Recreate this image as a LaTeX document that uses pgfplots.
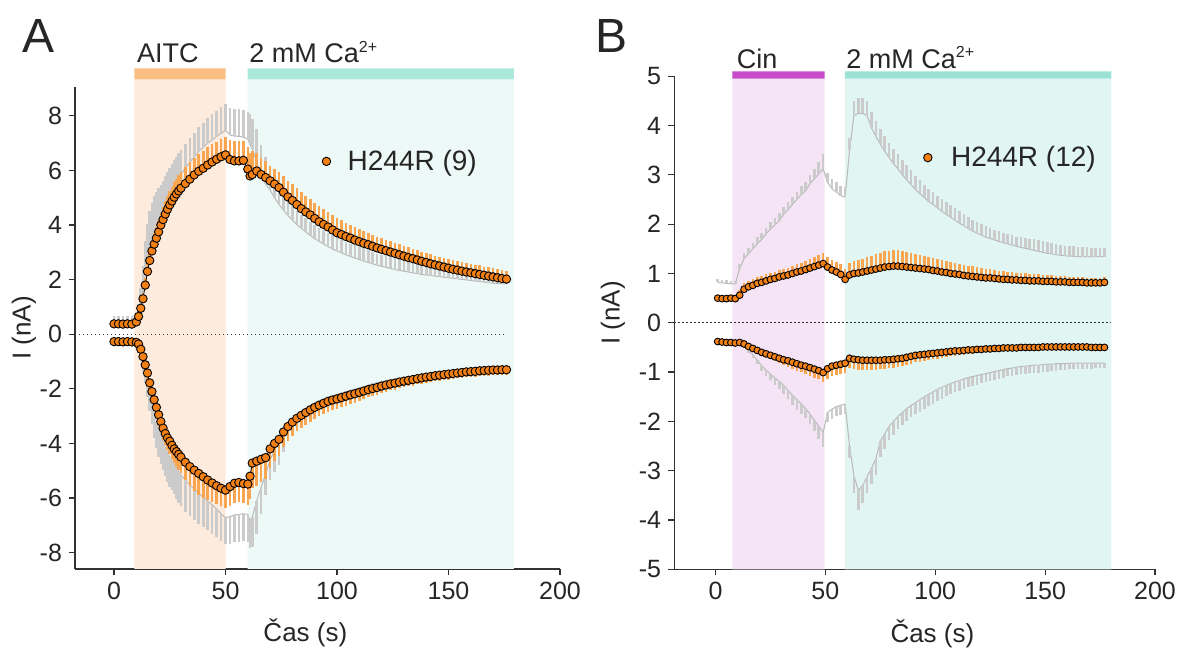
\documentclass[border=0pt]{standalone}
\usepackage{fontspec}
\setmainfont{Liberation Sans}
\usepackage{pgfplots}
\usepackage{pgfplotstable}
\pgfplotsset{compat=1.18}
\definecolor{orfill}{RGB}{242,128,20}
\definecolor{orerr}{RGB}{250,165,80}
\definecolor{grerr}{RGB}{203,203,203}
\definecolor{grmean}{RGB}{185,185,185}
\definecolor{aitcbar}{RGB}{250,190,130}
\definecolor{aitcsh}{RGB}{253,236,222}
\definecolor{cabarA}{RGB}{170,232,220}
\definecolor{cashA}{RGB}{236,249,247}
\definecolor{cinbar}{RGB}{200,75,200}
\definecolor{cinsh}{RGB}{245,228,245}
\definecolor{cabarB}{RGB}{155,226,213}
\definecolor{cashB}{RGB}{225,245,242}
\definecolor{axcol}{RGB}{50,50,50}

\pgfplotstableread{
t ou oue gu gue ol ole gl gle
0 0.38 0.05 0.50 0.15 -0.27 0.05 -0.32 0.10
2 0.38 0.05 0.50 0.15 -0.27 0.05 -0.32 0.10
4 0.37 0.05 0.50 0.15 -0.28 0.05 -0.32 0.10
6 0.38 0.05 0.51 0.15 -0.27 0.05 -0.32 0.10
8 0.37 0.05 0.50 0.15 -0.28 0.05 -0.32 0.10
10 0.45 0.06 0.60 0.15 -0.30 0.06 -0.35 0.10
11 0.65 0.10 0.80 0.30 -0.36 0.08 -0.42 0.20
12 0.95 0.15 1.10 0.60 -0.55 0.10 -0.65 0.30
13 1.30 0.20 1.60 0.90 -0.82 0.15 -0.95 0.40
14 1.80 0.25 2.20 1.20 -1.12 0.20 -1.30 0.50
15 2.30 0.30 2.70 1.35 -1.42 0.25 -1.70 0.60
16 2.70 0.35 3.10 1.40 -1.78 0.30 -2.10 0.70
17 3.05 0.38 3.45 1.35 -2.10 0.33 -2.50 0.80
18 3.30 0.40 3.75 1.30 -2.40 0.35 -2.90 0.90
19 3.52 0.42 4.00 1.20 -2.68 0.38 -3.20 0.95
20 3.75 0.44 4.25 1.10 -2.95 0.40 -3.50 1.00
21 4.00 0.45 4.47 1.00 -3.20 0.41 -3.72 1.02
22 4.20 0.46 4.68 0.95 -3.44 0.42 -3.95 1.04
23 4.40 0.48 4.88 0.90 -3.64 0.43 -4.15 1.05
24 4.58 0.50 5.05 0.88 -3.80 0.45 -4.35 1.06
25 4.74 0.51 5.20 0.88 -3.92 0.47 -4.50 1.08
26 4.88 0.52 5.35 0.88 -4.07 0.50 -4.62 1.10
27 5.02 0.54 5.50 0.88 -4.20 0.52 -4.76 1.11
28 5.14 0.55 5.63 0.88 -4.30 0.55 -4.90 1.12
29 5.25 0.57 5.76 0.88 -4.40 0.57 -5.03 1.14
30 5.35 0.58 5.87 0.88 -4.50 0.60 -5.15 1.15
32 5.52 0.60 6.08 0.88 -4.69 0.65 -5.35 1.15
34 5.68 0.62 6.30 0.88 -4.85 0.70 -5.52 1.14
36 5.84 0.63 6.50 0.88 -4.98 0.75 -5.68 1.13
38 5.97 0.65 6.70 0.88 -5.10 0.80 -5.82 1.12
40 6.08 0.65 6.85 0.88 -5.22 0.78 -5.97 1.10
42 6.20 0.65 7.00 0.93 -5.34 0.75 -6.10 1.08
44 6.31 0.65 7.12 0.93 -5.45 0.70 -6.25 1.06
46 6.41 0.65 7.25 0.93 -5.55 0.68 -6.40 1.04
48 6.50 0.65 7.36 0.95 -5.64 0.66 -6.58 1.00
50 6.57 0.65 7.47 0.97 -5.71 0.64 -6.72 0.97
52 6.40 0.72 7.30 1.00 -5.58 0.73 -6.68 1.00
54 6.35 0.72 7.26 1.00 -5.46 0.73 -6.62 1.00
56 6.35 0.72 7.25 1.00 -5.43 0.73 -6.60 1.00
58 6.37 0.72 7.22 1.00 -5.47 0.73 -6.58 1.00
60 6.05 0.80 7.15 1.00 -5.49 0.75 -6.60 1.00
61 5.80 0.85 6.95 1.10 -5.20 0.85 -6.84 1.00
62 5.85 0.85 6.80 1.10 -4.72 0.90 -6.70 1.10
64 5.98 0.65 6.30 1.20 -4.65 0.90 -6.10 1.20
66 5.85 0.62 5.80 1.15 -4.58 0.85 -5.60 1.00
68 5.74 0.60 5.50 1.00 -4.52 0.78 -5.13 0.75
70 5.62 0.55 5.28 0.85 -4.20 0.70 -4.60 0.75
72 5.50 0.56 5.00 0.75 -4.00 0.65 -4.25 0.80
74 5.37 0.57 4.75 0.68 -3.85 0.60 -3.95 0.85
76 5.20 0.58 4.55 0.62 -3.58 0.56 -3.60 0.70
78 5.03 0.60 4.35 0.58 -3.38 0.52 -3.30 0.60
80 4.90 0.60 4.18 0.55 -3.22 0.50 -3.10 0.55
82 4.75 0.60 4.02 0.50 -3.08 0.48 -2.95 0.50
84 4.60 0.60 3.88 0.50 -2.97 0.46 -2.82 0.46
86 4.48 0.60 3.75 0.50 -2.87 0.45 -2.72 0.44
88 4.37 0.59 3.62 0.50 -2.77 0.44 -2.61 0.42
90 4.24 0.58 3.50 0.50 -2.68 0.42 -2.52 0.40
92 4.12 0.57 3.40 0.50 -2.60 0.41 -2.44 0.39
94 4.02 0.56 3.30 0.50 -2.53 0.40 -2.37 0.38
96 3.93 0.56 3.21 0.50 -2.46 0.39 -2.31 0.37
98 3.82 0.55 3.12 0.50 -2.41 0.38 -2.25 0.36
100 3.72 0.55 3.05 0.50 -2.37 0.37 -2.20 0.35
102 3.65 0.53 2.98 0.48 -2.32 0.36 -2.15 0.34
104 3.58 0.51 2.91 0.48 -2.27 0.35 -2.10 0.34
106 3.52 0.49 2.85 0.47 -2.22 0.34 -2.05 0.33
108 3.45 0.47 2.79 0.47 -2.18 0.33 -2.01 0.33
110 3.39 0.45 2.74 0.47 -2.13 0.30 -1.97 0.32
112 3.33 0.44 2.68 0.47 -2.08 0.29 -1.93 0.32
114 3.28 0.43 2.63 0.46 -2.03 0.28 -1.86 0.31
116 3.22 0.42 2.58 0.45 -1.99 0.27 -1.81 0.31
118 3.16 0.41 2.53 0.42 -1.95 0.26 -1.77 0.30
120 3.11 0.40 2.49 0.42 -1.90 0.25 -1.74 0.30
122 3.06 0.40 2.45 0.42 -1.86 0.25 -1.71 0.29
124 3.01 0.39 2.41 0.42 -1.82 0.24 -1.68 0.29
126 2.96 0.38 2.37 0.42 -1.79 0.24 -1.65 0.28
128 2.91 0.38 2.34 0.42 -1.75 0.23 -1.62 0.28
130 2.86 0.37 2.31 0.42 -1.72 0.22 -1.59 0.28
132 2.81 0.37 2.28 0.36 -1.69 0.22 -1.56 0.27
134 2.77 0.36 2.25 0.36 -1.66 0.22 -1.54 0.27
136 2.72 0.36 2.22 0.36 -1.63 0.21 -1.52 0.27
138 2.67 0.35 2.19 0.36 -1.60 0.21 -1.50 0.26
140 2.63 0.35 2.17 0.36 -1.57 0.21 -1.48 0.26
142 2.58 0.35 2.15 0.30 -1.55 0.21 -1.46 0.26
144 2.54 0.34 2.13 0.30 -1.52 0.20 -1.43 0.25
146 2.50 0.34 2.11 0.30 -1.50 0.20 -1.41 0.25
148 2.46 0.34 2.09 0.30 -1.48 0.20 -1.39 0.25
150 2.42 0.34 2.07 0.30 -1.46 0.20 -1.37 0.25
152 2.38 0.34 2.05 0.25 -1.44 0.20 -1.35 0.24
154 2.35 0.34 2.03 0.25 -1.42 0.20 -1.33 0.24
156 2.31 0.34 2.01 0.25 -1.40 0.20 -1.31 0.24
158 2.28 0.34 1.99 0.25 -1.38 0.20 -1.29 0.23
160 2.25 0.34 1.97 0.25 -1.37 0.20 -1.28 0.23
162 2.22 0.33 1.95 0.25 -1.36 0.20 -1.27 0.23
164 2.19 0.33 1.93 0.25 -1.34 0.20 -1.26 0.22
166 2.16 0.32 1.91 0.25 -1.33 0.20 -1.25 0.22
168 2.13 0.32 1.89 0.25 -1.32 0.20 -1.24 0.22
170 2.10 0.31 1.87 0.25 -1.31 0.20 -1.23 0.21
172 2.07 0.31 1.86 0.25 -1.31 0.20 -1.22 0.21
174 2.04 0.30 1.85 0.25 -1.30 0.20 -1.21 0.20
176 2.02 0.30 1.84 0.25 -1.30 0.20 -1.20 0.20
}\tabA

\pgfplotstableread{
t ou oue gu gue ol ole gl gle
1 0.50 0.07 0.82 0.06 -0.38 0.04 -0.40 0.03
3 0.49 0.07 0.81 0.06 -0.39 0.04 -0.40 0.03
5 0.49 0.07 0.80 0.06 -0.40 0.04 -0.41 0.03
7 0.50 0.07 0.79 0.06 -0.40 0.04 -0.41 0.03
9 0.49 0.08 0.79 0.06 -0.41 0.04 -0.42 0.03
11 0.56 0.10 1.10 0.10 -0.40 0.04 -0.42 0.04
13 0.68 0.12 1.30 0.12 -0.43 0.04 -0.45 0.05
15 0.73 0.12 1.40 0.12 -0.48 0.05 -0.55 0.06
17 0.76 0.12 1.50 0.12 -0.52 0.05 -0.65 0.07
19 0.80 0.12 1.60 0.13 -0.56 0.06 -0.76 0.08
21 0.82 0.13 1.69 0.13 -0.60 0.07 -0.87 0.10
23 0.85 0.13 1.80 0.13 -0.63 0.08 -0.96 0.12
25 0.88 0.13 1.90 0.14 -0.66 0.08 -1.04 0.13
27 0.90 0.14 1.98 0.14 -0.69 0.09 -1.12 0.15
29 0.93 0.14 2.07 0.15 -0.72 0.10 -1.19 0.16
31 0.95 0.14 2.20 0.15 -0.75 0.11 -1.27 0.17
33 0.97 0.15 2.30 0.15 -0.77 0.12 -1.37 0.18
35 1.00 0.15 2.40 0.16 -0.80 0.13 -1.47 0.19
37 1.03 0.16 2.50 0.16 -0.83 0.14 -1.56 0.20
39 1.05 0.16 2.60 0.17 -0.86 0.14 -1.65 0.20
41 1.08 0.17 2.68 0.17 -0.88 0.15 -1.74 0.20
43 1.11 0.18 2.82 0.18 -0.91 0.16 -1.85 0.20
45 1.14 0.19 2.92 0.20 -0.94 0.17 -1.98 0.22
47 1.17 0.20 3.02 0.24 -0.97 0.18 -2.10 0.25
49 1.20 0.22 3.12 0.30 -1.01 0.20 -2.22 0.30
51 1.13 0.20 2.85 0.18 -0.93 0.20 -1.82 0.20
53 1.07 0.20 2.72 0.19 -0.88 0.20 -1.75 0.20
55 1.03 0.20 2.65 0.20 -0.86 0.20 -1.70 0.20
57 0.98 0.21 2.58 0.20 -0.84 0.20 -1.67 0.20
59 0.88 0.22 2.55 0.20 -0.82 0.20 -1.65 0.20
61 0.97 0.25 3.50 0.25 -0.72 0.20 -2.50 0.25
63 1.00 0.25 4.20 0.30 -0.74 0.20 -3.10 0.35
65 1.01 0.26 4.25 0.30 -0.75 0.20 -3.40 0.40
67 1.03 0.27 4.25 0.30 -0.76 0.20 -3.30 0.35
69 1.05 0.28 4.20 0.30 -0.76 0.20 -3.12 0.33
71 1.07 0.29 3.95 0.33 -0.76 0.19 -2.95 0.33
73 1.09 0.30 3.78 0.32 -0.76 0.19 -2.75 0.33
75 1.11 0.31 3.62 0.31 -0.76 0.18 -2.40 0.33
77 1.13 0.32 3.48 0.30 -0.75 0.18 -2.25 0.30
79 1.14 0.32 3.35 0.30 -0.75 0.17 -2.10 0.28
81 1.15 0.32 3.23 0.30 -0.74 0.17 -2.00 0.27
83 1.15 0.32 3.12 0.30 -0.73 0.16 -1.90 0.26
85 1.14 0.31 3.00 0.30 -0.72 0.16 -1.82 0.25
87 1.13 0.31 2.90 0.30 -0.70 0.15 -1.74 0.25
89 1.12 0.30 2.80 0.29 -0.68 0.15 -1.68 0.24
91 1.11 0.29 2.70 0.28 -0.66 0.14 -1.62 0.24
93 1.10 0.28 2.62 0.27 -0.65 0.14 -1.56 0.24
95 1.09 0.27 2.54 0.26 -0.64 0.13 -1.50 0.24
97 1.08 0.26 2.46 0.26 -0.63 0.13 -1.45 0.24
99 1.06 0.25 2.40 0.25 -0.62 0.12 -1.40 0.24
101 1.05 0.25 2.33 0.25 -0.61 0.12 -1.35 0.23
103 1.03 0.24 2.26 0.25 -0.60 0.11 -1.31 0.23
105 1.02 0.24 2.20 0.24 -0.59 0.11 -1.27 0.22
107 1.00 0.23 2.14 0.24 -0.58 0.10 -1.23 0.22
109 0.99 0.22 2.08 0.24 -0.57 0.10 -1.20 0.21
111 0.98 0.22 2.02 0.24 -0.57 0.09 -1.17 0.21
113 0.96 0.21 1.97 0.23 -0.56 0.09 -1.14 0.20
115 0.95 0.21 1.91 0.23 -0.55 0.08 -1.11 0.20
117 0.94 0.21 1.86 0.23 -0.55 0.08 -1.09 0.20
119 0.93 0.20 1.82 0.22 -0.54 0.08 -1.07 0.19
121 0.92 0.20 1.78 0.22 -0.54 0.08 -1.05 0.18
123 0.91 0.19 1.74 0.22 -0.53 0.07 -1.03 0.18
125 0.91 0.18 1.71 0.21 -0.53 0.07 -1.01 0.17
127 0.90 0.18 1.68 0.21 -0.52 0.07 -0.99 0.17
129 0.89 0.17 1.65 0.21 -0.52 0.07 -0.97 0.16
131 0.88 0.17 1.62 0.20 -0.51 0.07 -0.95 0.16
133 0.88 0.16 1.60 0.20 -0.51 0.06 -0.93 0.15
135 0.87 0.16 1.58 0.20 -0.51 0.06 -0.92 0.15
137 0.87 0.15 1.55 0.20 -0.51 0.06 -0.90 0.15
139 0.86 0.15 1.53 0.21 -0.50 0.06 -0.89 0.15
141 0.86 0.14 1.51 0.21 -0.50 0.06 -0.88 0.15
143 0.85 0.14 1.49 0.21 -0.50 0.06 -0.87 0.15
145 0.85 0.13 1.47 0.22 -0.50 0.06 -0.86 0.15
147 0.85 0.13 1.45 0.22 -0.50 0.06 -0.86 0.15
149 0.84 0.12 1.43 0.22 -0.49 0.06 -0.85 0.15
151 0.84 0.12 1.41 0.22 -0.49 0.06 -0.84 0.15
153 0.84 0.12 1.40 0.22 -0.49 0.06 -0.84 0.14
155 0.83 0.12 1.38 0.21 -0.49 0.05 -0.83 0.14
157 0.83 0.11 1.37 0.21 -0.49 0.05 -0.83 0.13
159 0.83 0.11 1.36 0.20 -0.49 0.05 -0.83 0.13
161 0.82 0.11 1.35 0.20 -0.49 0.05 -0.82 0.12
163 0.82 0.11 1.35 0.20 -0.49 0.05 -0.82 0.12
165 0.82 0.11 1.34 0.19 -0.49 0.05 -0.82 0.12
167 0.82 0.10 1.34 0.19 -0.49 0.05 -0.82 0.11
169 0.81 0.10 1.34 0.19 -0.49 0.05 -0.82 0.11
171 0.81 0.10 1.34 0.18 -0.50 0.05 -0.82 0.11
173 0.81 0.10 1.34 0.18 -0.50 0.05 -0.82 0.10
175 0.81 0.10 1.34 0.18 -0.50 0.05 -0.82 0.10
177 0.82 0.10 1.34 0.18 -0.50 0.05 -0.82 0.10
}\tabB

\pgfplotsset{
  panel/.style={
    scale only axis, clip=false,
    axis x line=bottom, axis y line=left,
    axis line style={-, line width=0.6pt, draw=axcol},
    tick align=outside, major tick length=3pt,
    tick style={line width=0.6pt, draw=axcol},
    xtick={0,50,100,150,200},
    /pgf/number format/assume math mode=true,
    ticklabel style={font=\fontsize{12.5}{14}\selectfont, text=black!85},
    label style={font=\fontsize{13}{15}\selectfont, text=black!85},
    xlabel={Čas (s)}, ylabel={I (nA)},
    legend style={draw=none, fill=none, inner sep=0pt,
      font=\fontsize{14}{16}\selectfont, text=black!85,
      nodes={inner sep=1pt}},
    legend image code/.code={\draw[##1, mark size=2.1pt] plot coordinates {(0cm,0cm)};},
  },
  ebu/.style n args={2}{draw=none, mark=none, forget plot,
    error bars/.cd, y dir=plus, y explicit, error mark=none,
    error bar style={solid, line width=#2, draw=#1}},
  ebd/.style n args={2}{draw=none, mark=none, forget plot,
    error bars/.cd, y dir=minus, y explicit, error mark=none,
    error bar style={solid, line width=#2, draw=#1}},
}

\begin{document}
\begin{tikzpicture}
\useasboundingbox (0,0) rectangle (595pt,324pt);

% ---------------- Panel A ----------------
\begin{axis}[panel,
  at={(37.5pt,39.5pt)}, anchor=south west,
  width=242.5pt, height=240.9pt,
  xmin=-17.5, xmax=200, ymin=-8.6, ymax=9.05,
  ytick={-8,-6,-4,-2,0,2,4,6,8},
  xlabel style={at={([yshift=-32pt]axis description cs:0.475,0)}, anchor=center},
  ylabel style={at={([xshift=-25.5pt]axis description cs:0,0.5)}, anchor=center},
  legend style={at={(axis description cs:0.509,0.846)}, anchor=west,
    /tikz/every odd column/.append style={column sep=7.5pt}},
]
\addplot[fill=aitcsh, draw=none, forget plot] coordinates {(9.1,-8.6) (9.1,9.34) (50,9.34) (50,-8.6) (9.1,-8.6)};
\addplot[fill=cashA, draw=none, forget plot] coordinates {(59.9,-8.6) (59.9,9.34) (179.3,9.34) (179.3,-8.6) (59.9,-8.6)};
\addplot[fill=aitcbar, draw=none, forget plot] coordinates {(9.1,9.34) (9.1,9.74) (50,9.74) (50,9.34) (9.1,9.34)};
\addplot[fill=cabarA, draw=none, forget plot] coordinates {(59.9,9.34) (59.9,9.74) (179.3,9.74) (179.3,9.34) (59.9,9.34)};
\addplot[black!80, line width=0.5pt, dash pattern=on 0.7pt off 1.3pt, mark=none, forget plot] coordinates {(-17.5,0) (176,0)};
% grey series
\addplot[grmean, line width=0.5pt, mark=none, forget plot] table[x=t, y=gu]{\tabA};
\addplot[grmean, line width=0.5pt, mark=none, forget plot] table[x=t, y=gl]{\tabA};
\addplot[ebu={grerr}{1.3pt}] table[x=t, y=gu, y error=gue]{\tabA};
\addplot[ebd={grerr}{1.3pt}] table[x=t, y=gl, y error=gle]{\tabA};
% orange series
\addplot[ebu={orerr}{1.3pt}] table[x=t, y=ou, y error=oue]{\tabA};
\addplot[ebd={orerr}{1.3pt}] table[x=t, y=ol, y error=ole]{\tabA};
\addplot[black, line width=0.4pt, mark=*, mark size=2.1pt,
  mark options={fill=orfill, draw=black, line width=0.45pt}] table[x=t, y=ou]{\tabA};
\addlegendentry{H244R (9)}
\addplot[black, line width=0.4pt, mark=*, mark size=2.1pt, forget plot,
  mark options={fill=orfill, draw=black, line width=0.45pt}] table[x=t, y=ol]{\tabA};
\end{axis}

% ---------------- Panel B ----------------
\begin{axis}[panel,
  at={(337.1pt,39.35pt)}, anchor=south west,
  width=240.4pt, height=246.5pt,
  xmin=-18.8, xmax=200, ymin=-5, ymax=5,
  ytick={-5,-4,-3,-2,-1,0,1,2,3,4,5},
  xlabel style={at={([yshift=-32.5pt]axis description cs:0.537,0)}, anchor=center},
  ylabel style={at={([xshift=-30.6pt]axis description cs:0,0.52)}, anchor=center},
  legend style={at={(axis description cs:0.518,0.835)}, anchor=west,
    /tikz/every odd column/.append style={column sep=8.5pt}},
]
\addplot[fill=cinsh, draw=none, forget plot] coordinates {(7.7,-5) (7.7,4.95) (49.7,4.95) (49.7,-5) (7.7,-5)};
\addplot[fill=cashB, draw=none, forget plot] coordinates {(58.9,-5) (58.9,4.95) (180.1,4.95) (180.1,-5) (58.9,-5)};
\addplot[fill=cinbar, draw=none, forget plot] coordinates {(7.7,4.95) (7.7,5.10) (49.7,5.10) (49.7,4.95) (7.7,4.95)};
\addplot[fill=cabarB, draw=none, forget plot] coordinates {(58.9,4.95) (58.9,5.10) (180.1,5.10) (180.1,4.95) (58.9,4.95)};
\addplot[black!80, line width=0.5pt, dash pattern=on 0.7pt off 1.3pt, mark=none, forget plot] coordinates {(-18.8,0) (179.8,0)};
\addplot[grmean, line width=0.5pt, mark=none, forget plot] table[x=t, y=gu]{\tabB};
\addplot[grmean, line width=0.5pt, mark=none, forget plot] table[x=t, y=gl]{\tabB};
\addplot[ebu={grerr}{1.3pt}] table[x=t, y=gu, y error=gue]{\tabB};
\addplot[ebd={grerr}{1.3pt}] table[x=t, y=gl, y error=gle]{\tabB};
\addplot[ebu={orerr}{1.3pt}] table[x=t, y=ou, y error=oue]{\tabB};
\addplot[ebd={orerr}{1.3pt}] table[x=t, y=ol, y error=ole]{\tabB};
\addplot[black, line width=0.4pt, mark=*, mark size=1.7pt,
  mark options={fill=orfill, draw=black, line width=0.45pt}] table[x=t, y=ou]{\tabB};
\addlegendentry{H244R (12)}
\addplot[black, line width=0.4pt, mark=*, mark size=1.7pt, forget plot,
  mark options={fill=orfill, draw=black, line width=0.45pt}] table[x=t, y=ol]{\tabB};
\end{axis}

% ---------------- annotations ----------------
\node[font=\fontsize{24}{26}\selectfont, text=black!85] at (19.5pt,305.8pt) {A};
\node[font=\fontsize{24}{26}\selectfont, text=black!85] at (306pt,305.8pt) {B};
\node[anchor=base west, inner sep=0pt, font=\fontsize{13.5}{15}\selectfont, text=black!85] at (68.4pt,292.5pt) {AITC};
\node[anchor=base west, inner sep=0pt, font=\fontsize{13.5}{15}\selectfont, text=black!85] at (124.5pt,292.5pt) {2 mM Ca\textsuperscript{\fontsize{8}{8}\selectfont 2+}};
\node[anchor=base west, inner sep=0pt, font=\fontsize{13.5}{15}\selectfont, text=black!85] at (368.2pt,289.8pt) {Cin};
\node[anchor=base west, inner sep=0pt, font=\fontsize{13.5}{15}\selectfont, text=black!85] at (423pt,289.8pt) {2 mM Ca\textsuperscript{\fontsize{8}{8}\selectfont 2+}};
\end{tikzpicture}
\end{document}
